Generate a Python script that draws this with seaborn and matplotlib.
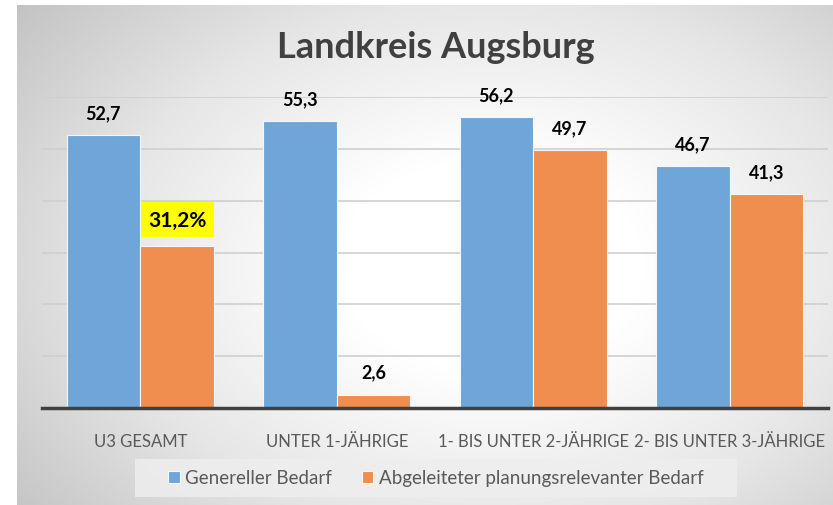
import numpy as np
import pandas as pd
import seaborn as sns
import matplotlib.pyplot as plt
from matplotlib.colors import LinearSegmentedColormap
from matplotlib.patches import Rectangle

# ─── Data ─────────────────────────────────────────────────────────────────────

categories = ["U3 GESAMT", "UNTER 1-JÄHRIGE", "1- BIS UNTER 2-JÄHRIGE", "2- BIS UNTER 3-JÄHRIGE"]
series_names = ["Genereller Bedarf", "Abgeleiteter planungsrelevanter Bedarf"]
generell = [52.7, 55.3, 56.2, 46.7]
abgeleitet = [31.2, 2.6, 49.7, 41.3]
labels_generell = ["52,7", "55,3", "56,2", "46,7"]
labels_abgeleitet = ["31,2%", "2,6", "49,7", "41,3"]

df = pd.DataFrame({
    "kategorie": categories * 2,
    "reihe": [series_names[0]] * 4 + [series_names[1]] * 4,
    "wert": generell + abgeleitet,
})

sns.set_theme(style="white")
plt.rcParams["font.family"] = ["Lato", "DejaVu Sans"]

fig = plt.figure(figsize=(8.33, 5.06), dpi=100, facecolor="white")

# ─── Gradient background ─────────────────────────────────────────────────────

bg = fig.add_axes([17 / 833, 0, 1 - 17 / 833, 1 - 6 / 506])
yy, xx = np.mgrid[0:1:300j, 0:1:500j]
dist = np.sqrt(((xx - 0.58) / 0.75) ** 2 + ((yy - 0.52) / 0.85) ** 2)
grad = np.clip(1 - dist, 0, 1)
cmap = LinearSegmentedColormap.from_list("bg", ["#c2c2c2", "#e6e6e6", "#ffffff"])
bg.imshow(grad, cmap=cmap, aspect="auto", extent=[0, 1, 0, 1], vmin=0, vmax=0.75)
bg.set_axis_off()

# legend background box
fig.patches.append(Rectangle((135 / 833, 1 - 498 / 506), (737 - 135) / 833, 38 / 506,
                             transform=fig.transFigure, facecolor="#eeeeee",
                             edgecolor="none", alpha=0.85, zorder=1))

# ─── Bars ────────────────────────────────────────────────────────────────────

ax = fig.add_axes([42 / 833, 1 - 409 / 506, (828 - 42) / 833, (409 - 98) / 506])
ax.patch.set_alpha(0)
palette = {series_names[0]: "#6fa6da", series_names[1]: "#ef8e4e"}
sns.barplot(data=df, x="kategorie", y="wert", hue="reihe", palette=palette,
            width=0.75, saturation=1, ax=ax, edgecolor="#f3f6fa", linewidth=0.8,
            legend=True)

ax.set_ylim(0, 60)
ax.set_yticks(range(0, 61, 10))
ax.yaxis.grid(True, color="#cfcfcf", linewidth=1.2)
ax.set_axisbelow(True)
ax.set_yticklabels([])
ax.set_xlabel("")
ax.set_ylabel("")
for side in ["left", "right", "top"]:
    ax.spines[side].set_visible(False)
ax.spines["bottom"].set_color("#404040")
ax.spines["bottom"].set_linewidth(2.5)
ax.tick_params(axis="x", length=0, pad=18, labelsize=12, labelcolor="#595959")
ax.tick_params(axis="y", length=0)
ax.set_xlim(-0.5, 3.5)

# Data labels
for cont, labs in zip(ax.containers, [labels_generell, labels_abgeleitet]):
    for bar, lab in zip(cont, labs):
        x = bar.get_x() + bar.get_width() / 2
        h = bar.get_height()
        if lab.endswith("%"):
            ax.annotate(lab, (x, h), xytext=(0, 12), textcoords="offset points",
                        ha="center", va="bottom", fontsize=15, fontweight="bold",
                        color="black", annotation_clip=False,
                        bbox=dict(boxstyle="square,pad=0.35", fc="#ffff00", ec="none"))
        else:
            ax.annotate(lab, (x, h), xytext=(0, 10), textcoords="offset points",
                        ha="center", va="bottom", fontsize=13, fontweight="bold",
                        color="black", annotation_clip=False)

# Legend
handles, lbls = ax.get_legend_handles_labels()
ax.legend_.remove()
leg = fig.legend(handles, lbls, loc="center", bbox_to_anchor=(436 / 833, 1 - 479 / 506),
                 ncol=2, frameon=False, fontsize=13.5, handlelength=0.6, handleheight=0.6,
                 handletextpad=0.3, columnspacing=1.6)
for t in leg.get_texts():
    t.set_color("#595959")

fig.text(436 / 833, 1 - 48 / 506, "Landkreis Augsburg", ha="center", va="center",
         fontsize=26, fontweight="bold", color="#404040")

plt.savefig("out.png", dpi=100)
